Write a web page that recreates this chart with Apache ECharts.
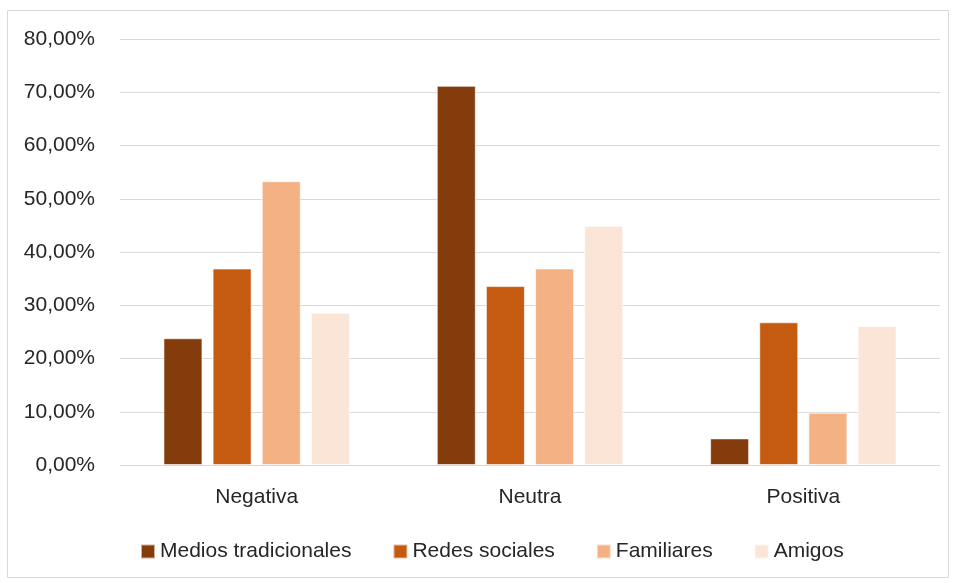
<!DOCTYPE html>
<html>
<head>
<meta charset="utf-8">
<script src="https://cdn.jsdelivr.net/npm/echarts@6/dist/echarts.min.js"></script>
<style>html,body{margin:0;padding:0;background:#fff}#c{width:958px;height:583px}</style>
</head>
<body>
<div id="c"></div>
<script>
var categories = ['Negativa', 'Neutra', 'Positiva'];
var seriesNames = ['Medios tradicionales', 'Redes sociales', 'Familiares', 'Amigos'];
var mediosTradicionales = [23.8, 71.2, 5.0];
var redesSociales = [36.9, 33.6, 26.8];
var familiares = [53.3, 36.9, 9.8];
var amigos = [28.6, 44.9, 26.1];
var yTicks = [0, 10, 20, 30, 40, 50, 60, 70, 80];
var colors = ['#843C0C', '#C55A11', '#F4B183', '#FBE5D6'];
var values = [mediosTradicionales, redesSociales, familiares, amigos];

var font = 'Liberation Sans';
var textColor = '#262626';
var chart = echarts.init(document.getElementById('c'), null, {renderer: 'canvas'});
chart.setOption({
  animation: false,
  backgroundColor: '#fff',
  textStyle: {fontFamily: font},
  graphic: [{
    type: 'rect', shape: {x: 7.5, y: 10.5, width: 941, height: 567},
    style: {fill: 'none', stroke: '#D9D9D9', lineWidth: 1}, silent: true
  }],
  grid: {left: 120, right: 18, top: 39, bottom: 118, containLabel: false},
  legend: {
    top: 541, left: 140, itemWidth: 14, itemHeight: 14, itemGap: 41,
    padding: 0,
    icon: 'rect',
    textStyle: {fontFamily: font, fontSize: 21, color: textColor},
    data: seriesNames
  },
  xAxis: {
    type: 'category', data: categories,
    axisLine: {lineStyle: {color: '#D9D9D9', width: 1}},
    axisTick: {show: false},
    axisLabel: {fontFamily: font, fontSize: 21, color: textColor, margin: 22}
  },
  yAxis: {
    type: 'value', min: yTicks[0], max: yTicks[yTicks.length - 1], interval: yTicks[1] - yTicks[0],
    axisLine: {show: false}, axisTick: {show: false},
    splitLine: {lineStyle: {color: '#D9D9D9', width: 1}},
    axisLabel: {
      fontFamily: font, fontSize: 21, color: textColor, margin: 25,
      formatter: function (v) { return v.toFixed(2).replace('.', ',') + '%'; }
    }
  },
  series: values.map(function (d, i) {
    return {
      name: seriesNames[i], type: 'bar', data: d,
      barWidth: 39, barGap: '26%',
      itemStyle: {color: colors[i], borderColor: 'rgba(255,255,255,0.6)', borderWidth: 1}
    };
  })
});
</script>
</body>
</html>
